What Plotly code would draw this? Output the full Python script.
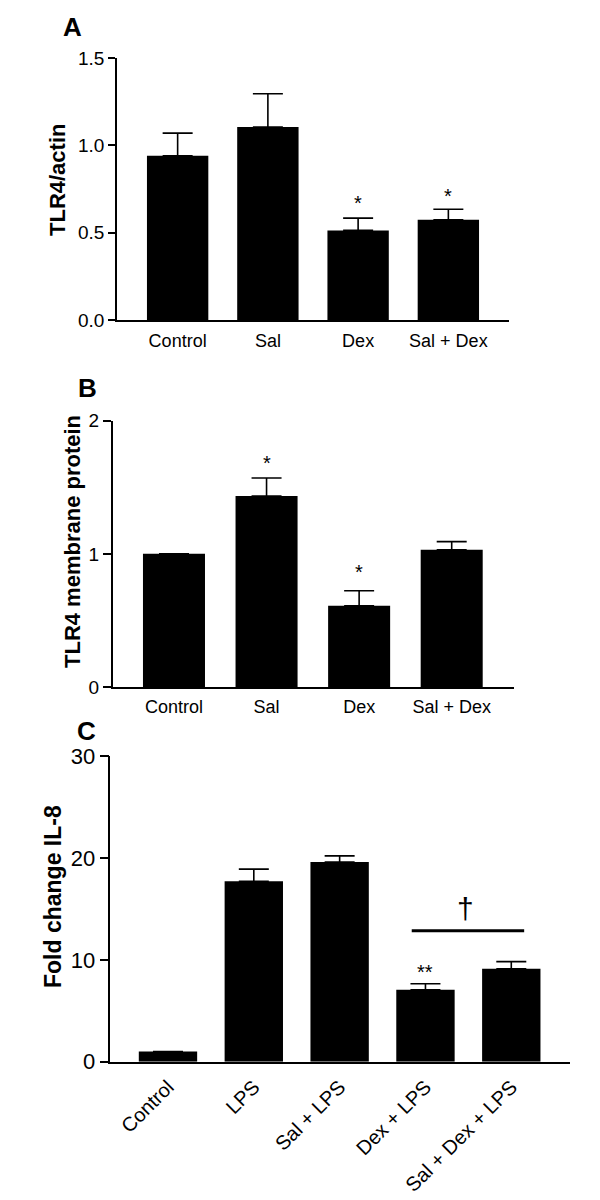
import plotly.graph_objects as go

# ---------------- data ----------------
cats_A = ["Control", "Sal", "Dex", "Sal + Dex"]
vals_A = [0.94, 1.105, 0.513, 0.574]
err_A = [0.13, 0.19, 0.07, 0.06]
stars_A = [(2, 0.69, "*"), (3, 0.735, "*")]

cats_B = ["Control", "Sal", "Dex", "Sal + Dex"]
vals_B = [1.0, 1.435, 0.61, 1.03]
err_B = [None, 0.135, 0.113, 0.062]
stars_B = [(1, 1.71, "*"), (2, 0.89, "*")]

cats_C = ["Control", "LPS", "Sal + LPS", "Dex + LPS", "Sal + Dex + LPS"]
vals_C = [1.0, 17.7, 19.6, 7.05, 9.12]
err_C = [None, 1.2, 0.6, 0.6, 0.7]
stars_C = [(3, 9.17, "**")]
sig_line_C = (3, 4, 12.86)   # from group 3 to group 4 at y
sig_mark_C = (3.47, 15.05, "†")

FONT = "Liberation Sans, Arial, sans-serif"
W, H = 600, 1200


def px_x(p):
    return p / W


def px_y(p):
    return 1 - p / H


fig = go.Figure()

for cats, vals, errs, xa, ya, bw in [
    (cats_A, vals_A, err_A, "x", "y", 0.68),
    (cats_B, vals_B, err_B, "x2", "y2", 0.67),
    (cats_C, vals_C, err_C, "x3", "y3", 0.68),
]:
    fig.add_trace(go.Bar(
        x=cats, y=vals, xaxis=xa, yaxis=ya, width=bw,
        marker=dict(color="black", line=dict(width=0)),
        error_y=dict(type="data", symmetric=False, array=errs,
                     arrayminus=[0] * len(vals), color="black",
                     thickness=1.6, width=15),
        showlegend=False, hoverinfo="skip",
    ))

axis_common = dict(showgrid=False, zeroline=False, showline=True, automargin=False,
                   linecolor="black", linewidth=1.5, color="black")

fig.update_layout(
    template="none",
    width=W, height=H, plot_bgcolor="white", paper_bgcolor="white",
    margin=dict(l=0, r=0, t=0, b=0, autoexpand=False),
    font=dict(family=FONT, color="black"),
    xaxis=dict(domain=[px_x(117), px_x(509)], anchor="y", range=[-0.672, 3.672],
               type="category", ticks="", tickfont=dict(size=18),
               ticklabelstandoff=4, **axis_common),
    yaxis=dict(domain=[px_y(320), px_y(58)], anchor="x", range=[0, 1.5],
               tickvals=[0, 0.5, 1.0, 1.5], ticktext=["0.0", "0.5", "1.0", "1.5"],
               ticks="outside", ticklen=7, tickwidth=1.5, tickcolor="black",
               tickfont=dict(size=19), **axis_common),
    xaxis2=dict(domain=[px_x(112.7), px_x(514)], anchor="y2", range=[-0.662, 3.673],
                type="category", ticks="", tickfont=dict(size=18),
                ticklabelstandoff=3, **axis_common),
    yaxis2=dict(domain=[px_y(687), px_y(420.7)], anchor="x2", range=[0, 2],
                tickvals=[0, 1, 2], ticks="outside", ticklen=8, tickwidth=1.5,
                tickcolor="black", tickfont=dict(size=19), **axis_common),
    xaxis3=dict(domain=[px_x(110.3), px_x(570)], anchor="y3", range=[-0.672, 4.684],
                type="category", ticks="", tickangle=-45, tickfont=dict(size=20),
                ticklabelstandoff=4, **axis_common),
    yaxis3=dict(domain=[px_y(1061.7), px_y(756)], anchor="x3", range=[0, 30],
                tickvals=[0, 10, 20, 30], ticks="outside", ticklen=9, tickwidth=1.5,
                tickcolor="black", tickfont=dict(size=22), **axis_common),
)

ann = []
# panel letters
for letter, xp, yp in [("A", 61, 27), ("B", 76, 388), ("C", 75, 731)]:
    ann.append(dict(text=f"<b>{letter}</b>", x=px_x(xp), y=px_y(yp), xref="paper",
                    yref="paper", xanchor="left", yanchor="middle", showarrow=False,
                    font=dict(size=26, family=FONT)))
# y-axis titles
for title, xp, yp, size in [("TLR4/actin", 57, 180, 22),
                            ("TLR4 membrane protein", 72, 542, 22),
                            ("Fold change IL-8", 53, 897, 23)]:
    ann.append(dict(text=f"<b>{title}</b>", x=px_x(xp), y=px_y(yp), xref="paper",
                    yref="paper", xanchor="center", yanchor="middle", textangle=-90,
                    showarrow=False, font=dict(size=size, family=FONT)))
# significance stars
for stars, xa, ya, cats in [(stars_A, "x", "y", cats_A), (stars_B, "x2", "y2", cats_B),
                            (stars_C, "x3", "y3", cats_C)]:
    for i, yv, t in stars:
        ann.append(dict(text=t, x=i, y=yv, xref=xa, yref=ya, showarrow=False,
                        xanchor="center", yanchor="middle", yshift=-4,
                        font=dict(size=20, family=FONT)))
# dagger
ann.append(dict(text=sig_mark_C[2], x=sig_mark_C[0], y=sig_mark_C[1], xref="x3", yref="y3",
                showarrow=False, xanchor="center", yanchor="middle",
                font=dict(size=30, family=FONT)))
fig.update_layout(annotations=ann)

# significance bar
g0, g1, yv = sig_line_C
fig.add_shape(type="line", xref="x3", yref="y3", x0=g0 - 0.16, x1=g1 + 0.15,
              y0=yv, y1=yv, line=dict(color="black", width=3))

fig.write_html("out.html", config={"displayModeBar": False},
               post_script="document.body.style.margin='0';document.body.style.padding='0';")
